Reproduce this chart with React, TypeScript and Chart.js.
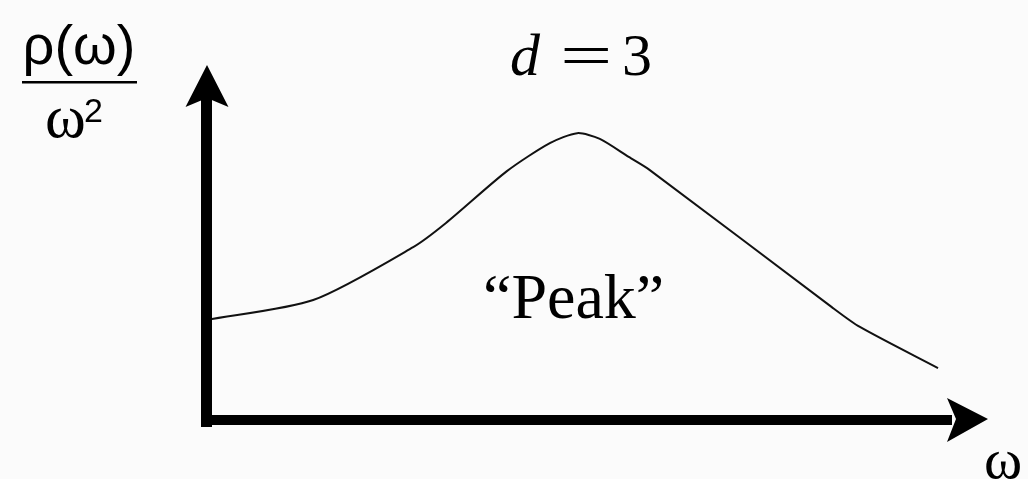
import React, { useEffect, useRef } from "react";
import { Chart, registerables } from "chart.js";

Chart.register(...registerables);

// Spectral density curve (ω on x, ρ(ω)/ω² on y), arbitrary units
const omega = [0, 1.36, 2.64, 3.06, 3.84, 4.39, 4.74, 5.03, 5.4, 5.67, 8.0, 8.36, 9.36];
const density = [2.82, 3.38, 4.87, 5.55, 7.01, 7.8, 8.08, 7.92, 7.41, 7.04, 3.18, 2.62, 1.46];

const titleText = "d = 3";
const peakLabel = "\u201CPeak\u201D";
const yLabelTop = "\u03C1(\u03C9)";
const yLabelBottom = "\u03C9";
const yLabelPower = "2";
const xLabel = "\u03C9";

const axesPlugin = {
  id: "arrowAxes",
  afterDatasetsDraw(chart: any) {
    const { ctx, chartArea } = chart;
    const { left, right, top, bottom } = chartArea;
    ctx.save();
    ctx.fillStyle = "#000";
    ctx.strokeStyle = "#000";

    // vertical axis shaft + arrowhead
    ctx.fillRect(left - 6, top + 30, 11, bottom - top - 30 + 7);
    ctx.beginPath();
    ctx.moveTo(left, top);
    ctx.lineTo(left + 21.5, top + 42);
    ctx.lineTo(left, top + 33);
    ctx.lineTo(left - 21.5, top + 42);
    ctx.closePath();
    ctx.fill();

    // horizontal axis shaft + arrowhead
    ctx.fillRect(left - 6, bottom - 5, right - left - 30, 10);
    ctx.beginPath();
    ctx.moveTo(right, bottom - 1);
    ctx.lineTo(right - 41, bottom - 22);
    ctx.lineTo(right - 32, bottom - 1);
    ctx.lineTo(right - 41, bottom + 22);
    ctx.closePath();
    ctx.fill();

    // title "d = 3"
    ctx.textBaseline = "alphabetic";
    ctx.textAlign = "left";
    ctx.font = "italic 60px 'Liberation Serif'";
    ctx.fillText(titleText.charAt(0), 510, 75);
    ctx.save();
    ctx.translate(560, 75);
    ctx.scale(1.55, 1);
    ctx.font = "60px 'Liberation Serif'";
    ctx.fillText("=", 0, 0);
    ctx.restore();
    ctx.font = "60px 'Liberation Serif'";
    ctx.fillText(titleText.slice(-1), 622, 75);

    // "Peak" annotation
    ctx.font = "64px 'Liberation Serif'";
    ctx.fillText(peakLabel, 483, 318);

    // y-axis label as a fraction
    ctx.textAlign = "center";
    ctx.font = "56px 'Liberation Sans'";
    ctx.fillText(yLabelTop, 79, 64);
    ctx.fillRect(22, 81, 115, 2.5);
    ctx.font = "62px 'Liberation Serif'";
    ctx.textAlign = "left";
    ctx.fillText(yLabelBottom, 45, 137);
    ctx.font = "34px 'Liberation Sans'";
    ctx.fillText(yLabelPower, 84, 122);

    // x-axis label
    ctx.font = "58px 'Liberation Serif'";
    ctx.fillText(xLabel, 984, 478);
    ctx.restore();
  },
};

export default function App() {
  const ref = useRef<HTMLCanvasElement | null>(null);
  useEffect(() => {
    document.body.style.margin = "0";
    document.body.style.background = "#fbfbfb";
    const canvas = ref.current;
    if (!canvas) return;
    const chart = new Chart(canvas, {
      type: "line",
      data: {
        datasets: [
          {
            data: omega.map((x, i) => ({ x, y: density[i] })),
            borderColor: "#111",
            borderWidth: 2,
            pointRadius: 0,
            tension: 0.25,
            fill: false,
          },
        ],
      },
      options: {
        animation: false,
        responsive: false,
        maintainAspectRatio: false,
        layout: { padding: { left: 207, right: 40, top: 65, bottom: 59 } },
        plugins: { legend: { display: false }, tooltip: { enabled: false }, title: { display: false } },
        scales: {
          x: { type: "linear", min: 0, max: 10, display: false },
          y: { type: "linear", min: 0, max: 10, display: false },
        },
      },
      plugins: [axesPlugin],
    });
    return () => chart.destroy();
  }, []);
  return (
    <div style={{ width: 1028, height: 479, background: "#fbfbfb" }}>
      <canvas ref={ref} width={1028} height={479} style={{ display: "block" }} />
    </div>
  );
}
